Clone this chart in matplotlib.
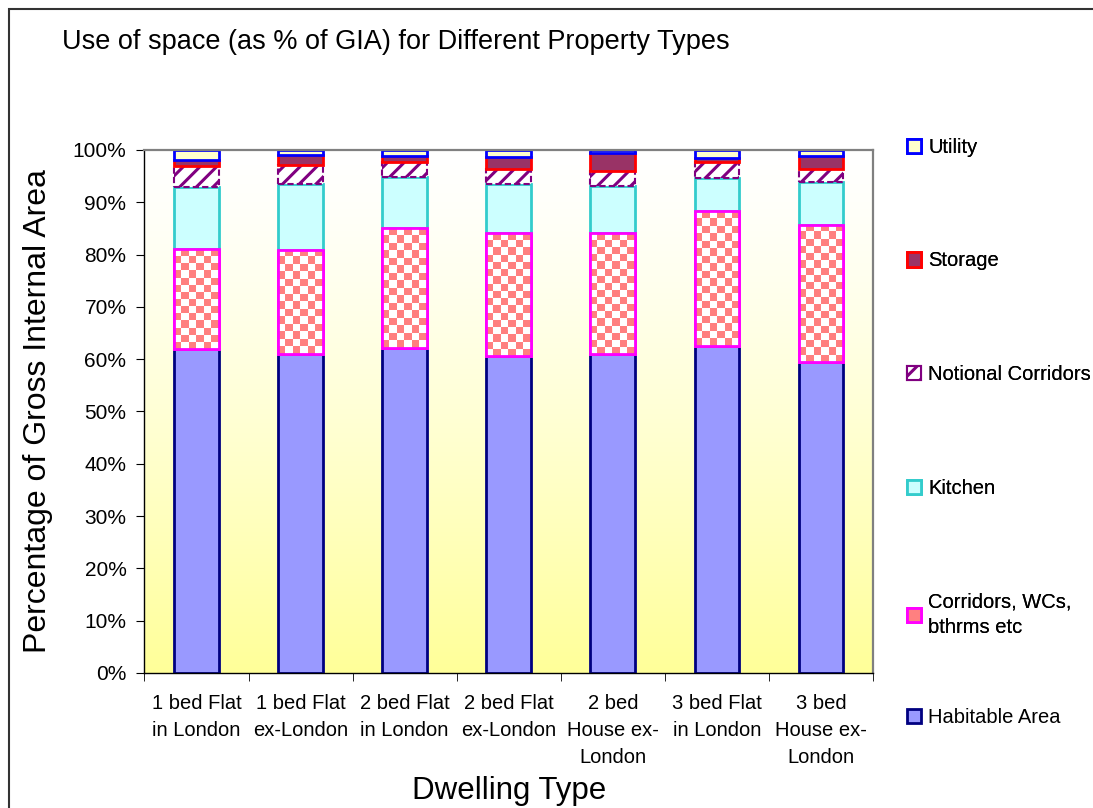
import matplotlib
matplotlib.use('Agg')
import matplotlib.pyplot as plt
import matplotlib.patches as mpatches
import numpy as np

plt.rcParams['font.family'] = ['Liberation Sans', 'DejaVu Sans']
plt.rcParams['hatch.linewidth'] = 2.2

# data (% of GIA)
dwellings = ['1 bed Flat\nin London', '1 bed Flat\nex-London', '2 bed Flat\nin London',
             '2 bed Flat\nex-London', '2 bed\nHouse ex-\nLondon', '3 bed Flat\nin London',
             '3 bed\nHouse ex-\nLondon']
habitable = [61.9, 61.0, 62.2, 60.7, 61.0, 62.6, 59.4]
corridors = [19.1, 19.9, 22.8, 23.5, 23.1, 25.8, 26.3]
kitchen = [12.0, 12.6, 9.9, 9.2, 9.1, 6.3, 8.1]
notional = [4.0, 3.6, 2.8, 3.0, 2.7, 3.0, 2.6]
storage = [1.0, 1.9, 1.1, 2.2, 3.5, 0.8, 2.5]
utility = [2.0, 1.0, 1.2, 1.4, 0.6, 1.5, 1.1]

fig = plt.figure(figsize=(10.93, 8.08), dpi=100)
ax = fig.add_axes([0.1322, 0.1671, 0.6665, 0.6473])

# gradient plot area background: white at top, pale yellow at bottom
grad = np.linspace(0, 1, 256) ** 1.3
bg = np.ones((256, 1, 3))
bg[:, 0, 2] = 1 - grad * 0.4
ax.imshow(bg, extent=(0, 1, 0, 1), transform=ax.transAxes, aspect='auto', zorder=0)

x = np.arange(len(dwellings))
w = 0.43
lw = 2.0
bottom = np.zeros(len(dwellings))

b_hab = ax.bar(x, habitable, w, bottom=bottom, color='#9999FF', edgecolor='#000080',
               linewidth=lw, zorder=2)
bottom += habitable

# checkerboard for corridors, drawn as an image clipped to each bar
b_cor = ax.bar(x, corridors, w, bottom=bottom, color='white', edgecolor='#FF00FF',
               linewidth=lw, zorder=2)
for rect, h in zip(b_cor, corridors):
    ncol = 6
    nrow = int(round(h * 5.23 / 7.3))
    cb = (np.add.outer(np.arange(nrow), np.arange(ncol)) % 2).astype(float)
    img = np.ones((nrow, ncol, 3))
    img[cb == 1] = [1.0, 0.5, 0.5]
    im = ax.imshow(img, extent=(rect.get_x(), rect.get_x() + rect.get_width(),
                                rect.get_y(), rect.get_y() + rect.get_height()),
                   aspect='auto', interpolation='nearest', zorder=2.1)
    im.set_clip_path(rect)
    edge = mpatches.Rectangle((rect.get_x(), rect.get_y()), rect.get_width(), rect.get_height(),
                              fill=False, edgecolor='#FF00FF', linewidth=lw, zorder=2.2)
    ax.add_patch(edge)
bottom += corridors

b_kit = ax.bar(x, kitchen, w, bottom=bottom, color='#CCFFFF', edgecolor='#33CCCC',
               linewidth=lw, zorder=2)
bottom += kitchen

b_not = ax.bar(x, notional, w, bottom=bottom, color='white', edgecolor='#800080',
               hatch='//', linewidth=1.5, linestyle=(0, (3, 1.5)), zorder=2)
bottom += notional

b_sto = ax.bar(x, storage, w, bottom=bottom, color='#993366', edgecolor='#FF0000',
               linewidth=lw, zorder=2)
bottom += storage

b_uti = ax.bar(x, utility, w, bottom=bottom, color='#FFFFCC', edgecolor='#0000FF',
               linewidth=lw, zorder=2)

ax.set_xlim(-0.5, len(dwellings) - 0.5)
ax.set_ylim(0, 100)
ax.set_yticks(np.arange(0, 101, 10))
ax.set_yticklabels([f'{v}%' for v in range(0, 101, 10)])
ax.set_xticks(x)
ax.set_xticklabels(dwellings, va='top', linespacing=1.55)
ax.set_xticks(np.arange(-0.5, len(dwellings)), minor=True)
ax.tick_params(axis='x', which='major', length=0, pad=15, labelsize=14.5)
ax.tick_params(axis='x', which='minor', length=6, direction='out')
ax.tick_params(axis='y', length=6, direction='out', labelsize=15, pad=7)

for s in ['top', 'right']:
    ax.spines[s].set_color('#808080')
    ax.spines[s].set_linewidth(1.6)
for s in ['left', 'bottom']:
    ax.spines[s].set_color('black')
    ax.spines[s].set_linewidth(1.0)

ax.set_ylabel('Percentage of Gross Internal Area', fontsize=23, labelpad=14)
ax.set_xlabel('Dwelling Type', fontsize=22.5, labelpad=6)

fig.text(0.057, 0.9485, 'Use of space (as % of GIA) for Different Property Types',
         fontsize=19.5, ha='left', va='center')

cor_handle = mpatches.Patch(facecolor='#FF8080', edgecolor='#FF00FF', linewidth=lw)
not_handle = mpatches.Patch(facecolor='white', edgecolor='#800080', hatch='//', linewidth=1.5)
leg_kw = dict(loc='upper left', frameon=False, fontsize=14.5, handlelength=0.72,
              handleheight=0.72, handletextpad=0.35, borderaxespad=0)
leg1 = fig.legend([b_uti, b_sto, not_handle, b_kit, cor_handle],
                  ['Utility', 'Storage', 'Notional Corridors', 'Kitchen',
                   'Corridors, WCs,\nbthrms etc'],
                  bbox_to_anchor=(0.822, 0.8394), labelspacing=4.7, **leg_kw)
for t in leg1.get_texts():
    t.set_linespacing(1.45)
fig.add_artist(leg1)
fig.legend([b_hab], ['Habitable Area'], bbox_to_anchor=(0.822, 0.134), **leg_kw)

# figure border
fig.patches.append(mpatches.Rectangle((0.0085, -0.01), 1.1, 0.9985,
                                      transform=fig.transFigure, fill=False,
                                      edgecolor='#333333', linewidth=1.5))

fig.savefig('out.png', dpi=100)
